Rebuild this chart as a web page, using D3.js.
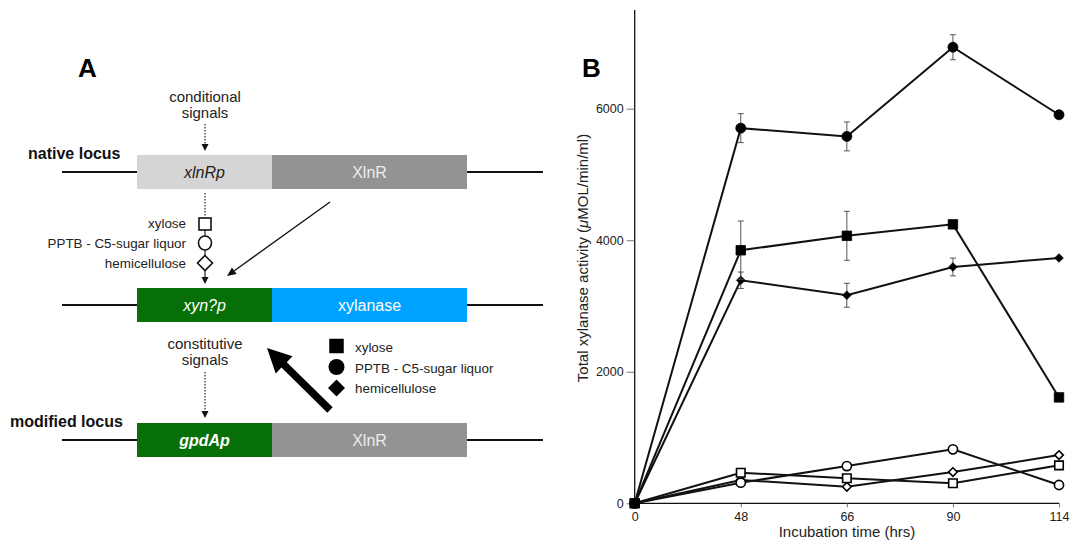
<!DOCTYPE html>
<html>
<head>
<meta charset="utf-8">
<script src="https://cdn.jsdelivr.net/npm/d3@7"></script>
<style>
  html, body { margin: 0; padding: 0; background: #fff; }
  svg { display: block; font-family: "Liberation Sans", Arial, Helvetica, sans-serif; }
</style>
</head>
<body>
<svg id="fig" width="1074" height="544"></svg>
<script>
// ---------- Panel B data ----------
const times = ["0", "48", "66", "90", "114"];
const xyloseFilled = [0, 3847, 4067, 4241, 1610];
const xyloseFilledErr = [0, 445, 372, 0, 0];
const pptbFilled = [0, 5704, 5578, 6934, 5907];
const pptbFilledErr = [0, 220, 220, 190, 0];
const hemiFilled = [0, 3391, 3163, 3593, 3730];
const hemiFilledErr = [0, 125, 182, 135, 0];
const xyloseOpen = [0, 465, 380, 304, 577];
const pptbOpen = [0, 313, 566, 820, 278];
const hemiOpen = [0, 354, 252, 475, 733];
const yTicks = [0, 2000, 4000, 6000];
const yMax = 7500;

// ---------- Panel A labels ----------
const sugarLabels = ["xylose", "PPTB - C5-sugar liquor", "hemicellulose"];

const svg = d3.select("#fig");
const ink = "#1a1a1a";

const diamondType = {
  draw(ctx, size) {
    const r = Math.sqrt(size / 2);
    ctx.moveTo(0, -r); ctx.lineTo(r, 0); ctx.lineTo(0, r); ctx.lineTo(-r, 0); ctx.closePath();
  }
};

// ================= PANEL A (diagram) =================
const A = svg.append("g");
A.append("text").attr("x", 78).attr("y", 77).attr("font-size", 26).attr("font-weight", "bold").attr("fill", "#000").text("A");

function dottedArrow(x, y1, y2) {
  A.append("line").attr("x1", x).attr("x2", x).attr("y1", y1).attr("y2", y2 - 6)
    .attr("stroke", "#222").attr("stroke-width", 1.2).attr("stroke-dasharray", "1.5,1.5");
  A.append("path").attr("d", `M${x - 3.5},${y2 - 7} L${x + 3.5},${y2 - 7} L${x},${y2} Z`).attr("fill", "#111");
}
function twoLine(x, y, l1, l2) {
  const t = A.append("text").attr("text-anchor", "middle").attr("font-size", 15).attr("fill", "#222");
  t.append("tspan").attr("x", x).attr("y", y).text(l1);
  t.append("tspan").attr("x", x).attr("y", y + 16).text(l2);
}
function locus(yTop, c1, c2, t1, t2, s1, s2) {
  const yc = yTop + 17;
  A.append("line").attr("x1", 62).attr("x2", 137).attr("y1", yc).attr("y2", yc).attr("stroke", "#111").attr("stroke-width", 2);
  A.append("line").attr("x1", 467).attr("x2", 543).attr("y1", yc).attr("y2", yc).attr("stroke", "#111").attr("stroke-width", 2);
  A.append("rect").attr("x", 137).attr("y", yTop).attr("width", 135).attr("height", 34).attr("fill", c1);
  A.append("rect").attr("x", 272).attr("y", yTop).attr("width", 195).attr("height", 34).attr("fill", c2);
  A.append("text").attr("x", 204.5).attr("y", yc + 5.8).attr("text-anchor", "middle").attr("font-size", 16)
    .attr("font-style", s1.style).attr("font-weight", s1.weight).attr("fill", s1.fill).text(t1);
  A.append("text").attr("x", 369.5).attr("y", yc + 5.8).attr("text-anchor", "middle").attr("font-size", 16)
    .attr("font-weight", s2.weight).attr("fill", s2.fill).text(t2);
}

twoLine(205, 102, "conditional", "signals");
dottedArrow(205, 124, 151);
A.append("text").attr("x", 28).attr("y", 159).attr("font-size", 16).attr("font-weight", "bold").attr("fill", "#111").text("native locus");
locus(155, "#d5d5d5", "#939393", "xlnRp", "XlnR",
  {style: "italic", weight: "normal", fill: "#222"}, {weight: "normal", fill: "#ececec"});

// chain with open symbols
A.append("line").attr("x1", 205).attr("x2", 205).attr("y1", 193).attr("y2", 218)
  .attr("stroke", "#222").attr("stroke-width", 1.2).attr("stroke-dasharray", "1.5,1.5");
A.append("line").attr("x1", 205).attr("x2", 205).attr("y1", 230).attr("y2", 256).attr("stroke", "#222").attr("stroke-width", 1.2);
A.append("rect").attr("x", 199).attr("y", 218).attr("width", 12).attr("height", 12).attr("fill", "#fff").attr("stroke", "#111").attr("stroke-width", 1.6);
A.append("ellipse").attr("cx", 205).attr("cy", 243).attr("rx", 6.5).attr("ry", 7).attr("fill", "#fff").attr("stroke", "#111").attr("stroke-width", 1.6);
A.append("path").attr("transform", "translate(205,263)").attr("d", d3.symbol().type(diamondType).size(2 * 7.5 * 7.5)())
  .attr("fill", "#fff").attr("stroke", "#111").attr("stroke-width", 1.6);
A.append("line").attr("x1", 205).attr("x2", 205).attr("y1", 270.5).attr("y2", 278).attr("stroke", "#222").attr("stroke-width", 1.2);
A.append("path").attr("d", "M201.5,277 L208.5,277 L205,284 Z").attr("fill", "#111");
sugarLabels.forEach((s, i) => {
  A.append("text").attr("x", 186).attr("y", [228, 248, 268][i]).attr("text-anchor", "end")
    .attr("font-size", 13.4).attr("fill", "#222").text(s);
});

// thin arrow from XlnR
(function () {
  const x1 = 330, y1 = 202, x2 = 227, y2 = 276;
  const ang = Math.atan2(y2 - y1, x2 - x1), L = 9, W = 4;
  const bx = x2 - L * Math.cos(ang), by = y2 - L * Math.sin(ang);
  A.append("line").attr("x1", x1).attr("y1", y1).attr("x2", bx).attr("y2", by).attr("stroke", "#111").attr("stroke-width", 1.3);
  A.append("path").attr("d", `M${x2},${y2} L${bx + W * Math.sin(ang)},${by - W * Math.cos(ang)} L${bx - W * Math.sin(ang)},${by + W * Math.cos(ang)} Z`).attr("fill", "#111");
})();

locus(288, "#076f07", "#00a2ff", "xyn?p", "xylanase",
  {style: "italic", weight: "normal", fill: "#fff"}, {weight: "normal", fill: "#fff"});

twoLine(205, 349, "constitutive", "signals");
dottedArrow(205, 372, 418);

// big arrow
(function () {
  const x1 = 330, y1 = 410, x2 = 267, y2 = 348;
  const ang = Math.atan2(y2 - y1, x2 - x1), L = 24, W = 12, w = 3.8;
  const c = Math.cos(ang), s = Math.sin(ang);
  const bx = x2 - L * c, by = y2 - L * s;
  const pts = [
    [x1 + w * s, y1 - w * c], [bx + w * s, by - w * c], [bx + W * s, by - W * c], [x2, y2],
    [bx - W * s, by + W * c], [bx - w * s, by + w * c], [x1 - w * s, y1 + w * c]
  ];
  A.append("path").attr("d", "M" + pts.map(p => p.join(",")).join("L") + "Z").attr("fill", "#000");
})();

// legend of filled symbols
const legTypes = [d3.symbolSquare, d3.symbolCircle, diamondType];
const legSizes = [14.5 * 14.5, Math.PI * 8 * 8, 2 * 8.5 * 8.5];
sugarLabels.forEach((s, i) => {
  A.append("path").attr("transform", `translate(336.5,${[346, 367, 388][i]})`)
    .attr("d", d3.symbol().type(legTypes[i]).size(legSizes[i])()).attr("fill", "#000");
  A.append("text").attr("x", 355).attr("y", [352, 373, 393][i]).attr("font-size", 13.4).attr("fill", "#222").text(s);
});

A.append("text").attr("x", 10).attr("y", 427).attr("font-size", 16).attr("font-weight", "bold").attr("fill", "#111").text("modified locus");
locus(423, "#076f07", "#939393", "gpdAp", "XlnR",
  {style: "italic", weight: "bold", fill: "#fff"}, {weight: "normal", fill: "#ececec"});

// ================= PANEL B (chart) =================
const x = d3.scalePoint().domain(times).range([634.7, 1059]).padding(0);
const y = d3.scaleLinear().domain([0, yMax]).range([503.3, 10]);

svg.append("text").attr("x", 582).attr("y", 77).attr("font-size", 26).attr("font-weight", "bold").attr("fill", "#000").text("B");

const yAxis = svg.append("g").attr("transform", `translate(${x(times[0])},0)`)
  .call(d3.axisLeft(y).tickValues(yTicks).tickSize(8).tickPadding(3).tickFormat(d3.format("d")));
yAxis.select(".domain").attr("d", `M0,${y(0)}V${y(yMax)}`).attr("stroke", "#111").attr("stroke-width", 1.3);
yAxis.selectAll(".tick line").attr("stroke", "#555").attr("stroke-width", 0.8);
yAxis.selectAll("text").attr("font-size", 12.5).attr("fill", "#222").attr("font-family", "Liberation Sans, Arial, sans-serif");

const xAxis = svg.append("g").attr("transform", `translate(0,${y(0)})`)
  .call(d3.axisBottom(x).tickSize(4).tickPadding(5));
xAxis.select(".domain").attr("d", `M${x(times[0])},0H${x(times[times.length - 1])}`).attr("stroke", "#111").attr("stroke-width", 1.3);
xAxis.selectAll(".tick line").attr("stroke", "#555").attr("stroke-width", 0.8);
xAxis.selectAll("text").attr("font-size", 12.5).attr("fill", "#222").attr("font-family", "Liberation Sans, Arial, sans-serif");

svg.append("text").attr("x", 847).attr("y", 537).attr("text-anchor", "middle").attr("font-size", 15).attr("fill", "#222").text("Incubation time (hrs)");
const yl = svg.append("text").attr("transform", "translate(588,258) rotate(-90)").attr("text-anchor", "middle").attr("font-size", 15).attr("fill", "#222");
yl.append("tspan").text("Total xylanase activity (");
yl.append("tspan").attr("font-style", "italic").text("\u03bc");
yl.append("tspan").text("MOL/min/ml)");

const series = [
  {vals: hemiOpen, type: diamondType, size: 2 * 4.3 * 4.3, fill: "#fff"},
  {vals: xyloseOpen, type: d3.symbolSquare, size: 8.5 * 8.5, fill: "#fff"},
  {vals: pptbOpen, type: d3.symbolCircle, size: Math.PI * 4.6 * 4.6, fill: "#fff"},
  {vals: hemiFilled, err: hemiFilledErr, type: diamondType, size: 2 * 4.3 * 4.3, fill: "#000"},
  {vals: pptbFilled, err: pptbFilledErr, type: d3.symbolCircle, size: Math.PI * 5 * 5, fill: "#000"},
  {vals: xyloseFilled, err: xyloseFilledErr, type: d3.symbolSquare, size: 9.5 * 9.5, fill: "#000"}
];
const line = d3.line().x((d, i) => x(times[i])).y(d => y(d));

series.forEach(s => {
  const g = svg.append("g");
  if (s.err) {
    s.vals.forEach((v, i) => {
      const e = s.err[i];
      if (!e) return;
      const cx = x(times[i]);
      g.append("path").attr("d", `M${cx},${y(v - e)}V${y(v + e)}M${cx - 3},${y(v - e)}H${cx + 3}M${cx - 3},${y(v + e)}H${cx + 3}`)
        .attr("stroke", "#444").attr("stroke-width", 0.9).attr("fill", "none");
    });
  }
  g.append("path").attr("d", line(s.vals)).attr("fill", "none").attr("stroke", "#111").attr("stroke-width", 2);
  g.selectAll("path.pt").data(s.vals).join("path").attr("class", "pt")
    .attr("transform", (d, i) => `translate(${x(times[i])},${y(d)})`)
    .attr("d", d3.symbol().type(s.type).size(s.size)())
    .attr("fill", s.fill).attr("stroke", "#000").attr("stroke-width", s.fill === "#fff" ? 1.6 : 0.8);
});
</script>
</body>
</html>
